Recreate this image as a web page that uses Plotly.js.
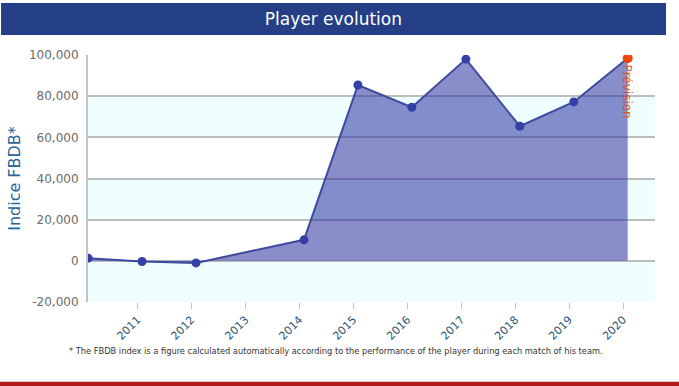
<!DOCTYPE html>
<html>
<head>
<meta charset="utf-8">
<script src="https://cdn.plot.ly/plotly-3.0.1.min.js"></script>
<style>html,body{margin:0;padding:0;background:#fff;}#chart{width:679px;height:386px;}</style>
</head>
<body>
<div id="chart"></div>
<script>
// Data
const dates = ['2010-02-01','2011-02-01','2012-02-01','2014-02-01','2015-02-01','2016-02-01','2017-02-01','2018-02-01','2019-02-01','2020-02-01'];
const values = [1300, -300, -1000, 10200, 85400, 74600, 98000, 65400, 77200, 98400];
const isForecast = [false,false,false,false,false,false,false,false,false,true];
const tickYears = ['2011','2012','2013','2014','2015','2016','2017','2018','2019','2020'];
const yTicks = [-20000, 0, 20000, 40000, 60000, 80000, 100000];
const yTickText = ['-20,000', '0', '20,000', '40,000', '60,000', '80,000', '100,000'];
const bandRanges = [[60000, 80000], [20000, 40000], [-20000, 0]];
const forecastLabel = 'Prévision';
const chartTitle = 'Player evolution';
const yTitle = 'Indice FBDB*';
const footnote = '* The FBDB index is a figure calculated automatically according to the performance of the player during each match of his team.';

const markerColors = isForecast.map(f => f ? '#f0450f' : '#3340a6');
const markerSizes = isForecast.map(f => f ? 10 : 9);

const trace = {
  x: dates,
  y: values,
  type: 'scatter',
  mode: 'lines+markers',
  fill: 'tozeroy',
  fillcolor: 'rgba(40,50,160,0.55)',
  line: {color: '#3e4a9e', width: 2},
  marker: {color: markerColors, size: markerSizes, opacity: 1, line: {width: 0}},
  hoverinfo: 'skip'
};

const shapes = bandRanges.map(r => ({
  type: 'rect', xref: 'paper', yref: 'y', x0: 0, x1: 1, y0: r[0], y1: r[1],
  fillcolor: '#efffff', line: {width: 0}, layer: 'below'
}));
// title banner and bottom red bar (paper coords relative to plot area 88..655 x 55..302)
shapes.push({type: 'rect', xref: 'paper', yref: 'paper', x0: -0.1534, x1: 1.0194, y0: 1.081, y1: 1.2105,
  fillcolor: '#253f86', line: {width: 0}, layer: 'above'});
shapes.push({type: 'rect', xref: 'paper', yref: 'paper', x0: -0.2, x1: 1.1, y0: -0.345, y1: -0.3227,
  fillcolor: '#b11a1d', line: {width: 0}, layer: 'above'});

const fIdx = isForecast.indexOf(true);

const layout = {
  width: 679, height: 386,
  margin: {l: 88, r: 24, t: 55, b: 84},
  paper_bgcolor: '#ffffff',
  plot_bgcolor: '#ffffff',
  showlegend: false,
  title: {text: chartTitle, font: {family: 'DejaVu Sans', size: 17, color: '#ffffff'},
    x: 0.491, xanchor: 'center', y: 0.951, yanchor: 'middle', yref: 'container'},
  xaxis: {
    type: 'date',
    range: ['2010-01-31', '2020-08-04'],
    tickvals: tickYears.map(y => y + '-01-01'),
    ticktext: tickYears,
    tickangle: -45,
    ticks: 'outside', ticklen: 6, tickcolor: '#c0c0c0', tickwidth: 1,
    tickfont: {family: 'DejaVu Sans', size: 11, color: '#2b5677'},
    showgrid: false, zeroline: false,
    showline: false
  },
  yaxis: {
    range: [-20000, 100000],
    tickvals: yTicks,
    ticktext: yTickText,
    tickfont: {family: 'DejaVu Sans', size: 12, color: '#6b6b6b'},
    ticklabelstandoff: 5,
    showgrid: true, gridcolor: '#bdbdbd', gridwidth: 2,
    zeroline: false,
    showline: true, linecolor: '#c4c4c4', linewidth: 2,
    title: {text: yTitle, font: {family: 'DejaVu Sans', size: 16, color: '#2a6598'}, standoff: 4}
  },
  shapes: shapes,
  annotations: [
    {x: dates[fIdx], y: values[fIdx], xref: 'x', yref: 'y', text: forecastLabel, showarrow: false,
      textangle: 90, xanchor: 'center', yanchor: 'top', yshift: -4, xshift: -1,
      font: {family: 'DejaVu Sans', size: 12, color: '#e0531f'}},
    {x: 0.438, y: -0.195, xref: 'paper', yref: 'paper', text: footnote, showarrow: false,
      xanchor: 'center', yanchor: 'middle',
      font: {family: 'DejaVu Sans Condensed', size: 9.2, color: '#333333'}}
  ]
};

Plotly.newPlot('chart', [trace], layout, {displayModeBar: false, staticPlot: true});
</script>
</body>
</html>
